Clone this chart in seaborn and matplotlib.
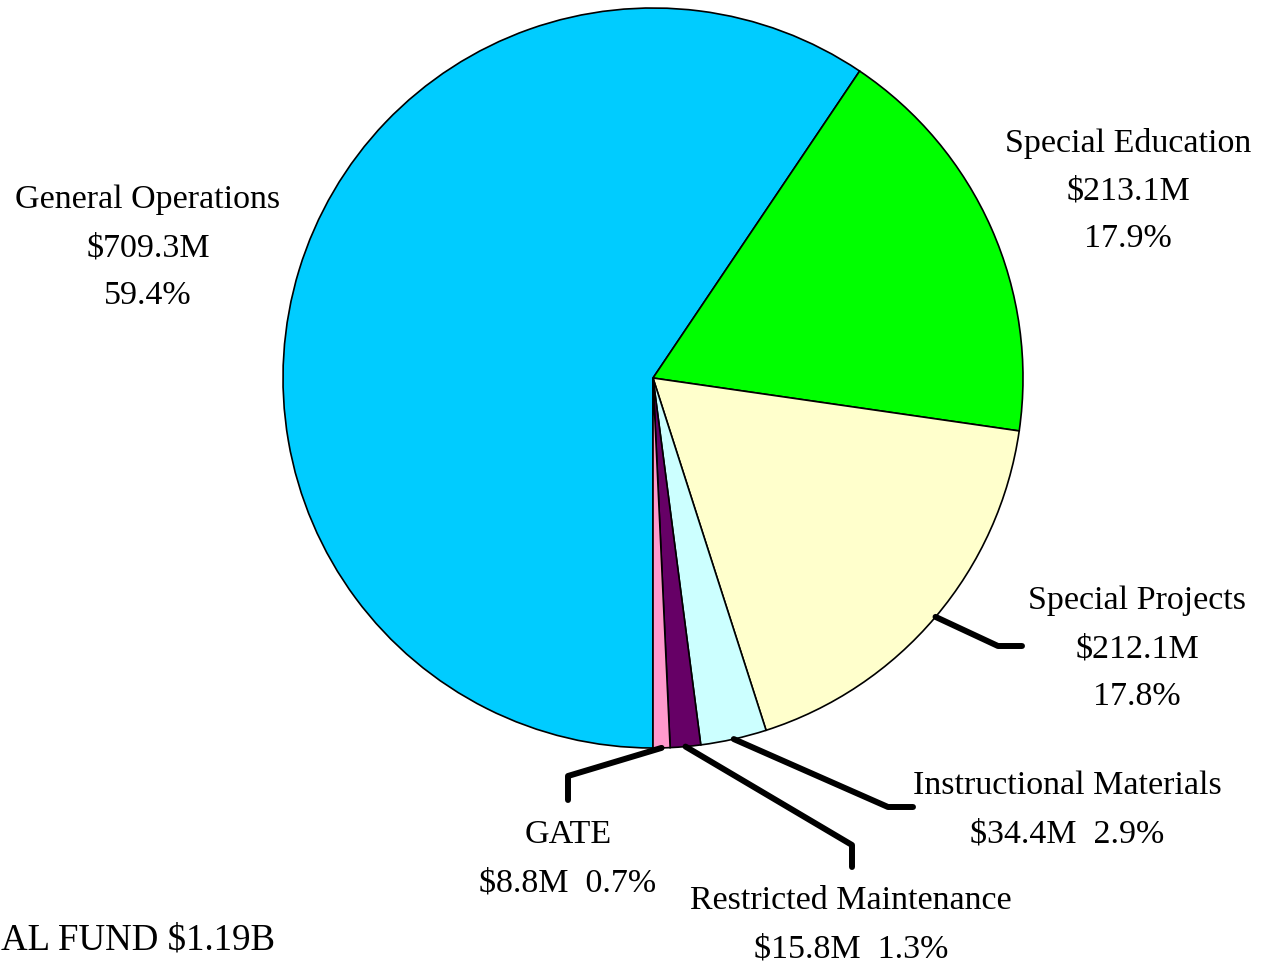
import numpy as np
import seaborn as sns
import matplotlib.pyplot as plt

# Data
categories = ["General Operations", "Special Education", "Special Projects",
              "Instructional Materials", "Restricted Maintenance", "GATE"]
amounts = [709.3, 213.1, 212.1, 34.4, 15.8, 8.8]
amount_labels = ["$709.3M", "$213.1M", "$212.1M", "$34.4M", "$15.8M", "$8.8M"]
pct_labels = ["59.4%", "17.9%", "17.8%", "2.9%", "1.3%", "0.7%"]
colors = ["#00CCFF", "#00FF00", "#FFFFCC", "#CCFFFF", "#660066", "#FF99CC"]
total_label = "AL FUND $1.19B"

sns.set_theme(style="white")
plt.rcParams['font.family'] = ['Liberation Serif', 'DejaVu Serif']
plt.rcParams['text.color'] = 'black'

W, H = 1263, 963
fig = plt.figure(figsize=(W / 100, H / 100), dpi=100)
ax = fig.add_axes([0, 0, 1, 1])

cx, cy, r = 653, H - 378, 370
wedges, _ = ax.pie(amounts, colors=colors, startangle=270, counterclock=False,
                   center=(cx, cy), radius=r, frame=True,
                   wedgeprops=dict(edgecolor='black', linewidth=1.2))
ax.set_xlim(0, W)
ax.set_ylim(0, H)
ax.set_aspect('equal')
ax.axis('off')

fs = 24.5
def label(x, y, lines):
    for i, t in enumerate(lines):
        ax.text(x, H - (y + 3 + i * 48), t, ha='center', va='center',
                fontsize=fs, color='black')

# big slices: three-line labels
label(148, 197, [categories[0], amount_labels[0], pct_labels[0]])
label(1128, 140, [categories[1], amount_labels[1], pct_labels[1]])
label(1137, 598, [categories[2], amount_labels[2], pct_labels[2]])
# small slices: two-line labels
label(1067, 783, [categories[3], amount_labels[3] + "  " + pct_labels[3]])
label(851, 898, [categories[4], amount_labels[4] + "  " + pct_labels[4]])
label(568, 832, [categories[5], amount_labels[5] + "  " + pct_labels[5]])

# leader lines: start at wedge mid-angle on the rim, then elbow (pixel layout)
leaders = {2: [(998, 646), (1022, 646)],
           3: [(888, 807), (913, 807)],
           4: [(852, 845), (852, 867)],
           5: [(568, 776), (568, 800)]}
for idx, pts in leaders.items():
    w = wedges[idx]
    ang = np.deg2rad((w.theta1 + w.theta2) / 2)
    xs = [cx + r * np.cos(ang)] + [p[0] for p in pts]
    ys = [cy + r * np.sin(ang)] + [H - p[1] for p in pts]
    ax.plot(xs, ys, color='black', linewidth=4.3, solid_capstyle='round',
            solid_joinstyle='round')

ax.text(275, H - 940, total_label, ha='right', va='center', fontsize=26.6,
        color='black')

plt.savefig("out.png", dpi=100)
